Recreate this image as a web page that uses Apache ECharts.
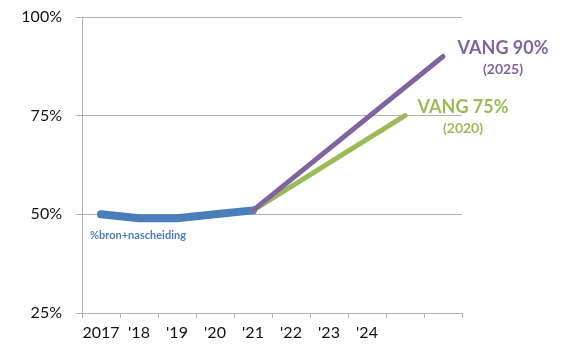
<!DOCTYPE html>
<html>
<head>
<meta charset="utf-8">
<script src="https://cdn.jsdelivr.net/npm/echarts@6/dist/echarts.min.js"></script>
<style>
  html, body { margin: 0; padding: 0; background: #fff; }
  #chart { width: 564px; height: 348px; }
</style>
</head>
<body>
<div id="chart"></div>
<script>
// categorieen (laatste twee zonder label)
var years = ['2017', "'18", "'19", "'20", "'21", "'22", "'23", "'24", '', ''];
// %bron+nascheiding
var actual = [50, 49, 49, 50, 51, null, null, null, null, null];
// VANG doelen, lopen vanaf '21
var vang90 = [null, null, null, null, 51, null, null, null, null, 90];
var vang75 = [null, null, null, null, 51, null, null, null, 75, null];
var yTicks = [25, 50, 75, 100];

var font = 'Lato, "Open Sans", sans-serif';
var grey = '#b3b3b3';

var myChart = echarts.init(document.getElementById('chart'));

var option = {
  animation: false,
  grid: { left: 82, right: 102, top: 17, bottom: 35 },
  xAxis: {
    type: 'category',
    data: years,
    boundaryGap: true,
    axisLine: { lineStyle: { color: grey, width: 1 } },
    axisTick: { show: true, interval: 0, length: 5, lineStyle: { color: grey } },
    axisLabel: { interval: 0, color: '#111', fontSize: 16, fontFamily: font, margin: 12 }
  },
  yAxis: {
    type: 'value',
    min: yTicks[0],
    max: yTicks[yTicks.length - 1],
    interval: 25,
    axisLine: { show: true, lineStyle: { color: grey, width: 1 } },
    axisTick: { show: true, length: 6, lineStyle: { color: grey } },
    axisLabel: { formatter: '{value}%', color: '#111', fontSize: 16, fontFamily: font, margin: 20 },
    splitLine: { show: true, lineStyle: { color: grey, width: 1 } }
  },
  series: [
    {
      name: '%bron+nascheiding',
      type: 'line',
      data: actual,
      symbol: 'none',
      lineStyle: { color: '#4a7ebb', width: 8, cap: 'round', join: 'round' },
      markPoint: {
        symbol: 'circle',
        symbolSize: 1,
        itemStyle: { color: 'rgba(0,0,0,0)' },
        data: [{ coord: [0, 50] }],
        label: {
          show: true,
          position: 'inside',
          formatter: '%bron+nascheiding',
          color: '#4a7ebb',
          fontWeight: 'bold',
          fontSize: 11,
          fontFamily: font,
          align: 'left',
          offset: [-11, 21]
        }
      }
    },
    {
      name: 'VANG 75%',
      type: 'line',
      data: vang75,
      connectNulls: true,
      symbol: 'none',
      lineStyle: { color: '#9bbb59', width: 5, cap: 'round' },
      endLabel: {
        show: true,
        formatter: '{a|VANG 75%}\n{b|(2020)}',
        align: 'center',
        offset: [50, 2],
        rich: {
          a: { color: '#9bbb59', fontWeight: 'bold', fontSize: 18, fontFamily: font, lineHeight: 22, align: 'center' },
          b: { color: '#9bbb59', fontWeight: 'bold', fontSize: 14, fontFamily: font, lineHeight: 20, align: 'center' }
        }
      }
    },
    {
      name: 'VANG 90%',
      type: 'line',
      data: vang90,
      connectNulls: true,
      symbol: 'none',
      lineStyle: { color: '#8064a2', width: 5, cap: 'round' },
      endLabel: {
        show: true,
        formatter: '{a|VANG 90%}\n{b|(2025)}',
        align: 'center',
        offset: [52, 2],
        rich: {
          a: { color: '#8064a2', fontWeight: 'bold', fontSize: 18, fontFamily: font, lineHeight: 22, align: 'center' },
          b: { color: '#8064a2', fontWeight: 'bold', fontSize: 14, fontFamily: font, lineHeight: 20, align: 'center' }
        }
      }
    }
  ]
};

myChart.setOption(option);
</script>
</body>
</html>
